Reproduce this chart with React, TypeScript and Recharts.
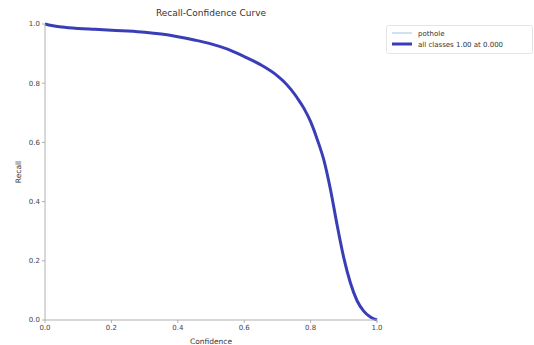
import { Line, LineChart, XAxis, YAxis } from "recharts";

const confidence = [
  0, 0.02, 0.05, 0.1, 0.15, 0.2, 0.25, 0.3, 0.35, 0.4, 0.45, 0.5, 0.55, 0.6, 0.65, 0.7, 0.72, 0.74, 0.76,
  0.78, 0.8, 0.82, 0.84, 0.86, 0.88, 0.9, 0.92, 0.94, 0.96, 0.98, 1.0,
];
const recallAll = [
  1.0, 0.995, 0.99, 0.985, 0.982, 0.979, 0.976, 0.972, 0.966, 0.957, 0.946, 0.933, 0.915, 0.89, 0.862,
  0.825, 0.805, 0.78, 0.75, 0.715, 0.67, 0.61, 0.54, 0.44, 0.32, 0.21, 0.125, 0.065, 0.03, 0.01, 0.0,
];
const recallPothole = recallAll;

const ticks = [0, 0.2, 0.4, 0.6, 0.8, 1.0];

const legendItems = [
  { label: "pothole", color: "#9fc3e6", width: 1 },
  { label: "all classes 1.00 at 0.000", color: "#3a3db8", width: 3 },
];

const rows = confidence.map((c, i) => ({ c, all: recallAll[i], pothole: recallPothole[i] }));

const FONT = "DejaVu Sans, sans-serif";
const FRAME = "#b0b0b0";

// legend drawn as plain svg so it takes no space from the plot
function LegendBox() {
  return (
    <g fontFamily={FONT} fontSize={7} fill="#333">
      <rect x={386.5} y={25.5} width={146} height={28} rx={2} fill="#fff" stroke="#e4e4e4" />
      {legendItems.map((item, i) => (
        <g key={item.label}>
          <line x1={392} x2={412} y1={33 + i * 11} y2={33 + i * 11} stroke={item.color} strokeWidth={item.width} />
          <text x={418} y={35.5 + i * 11}>{item.label}</text>
        </g>
      ))}
    </g>
  );
}

export default function App() {
  return (
    <div style={{ position: "fixed", left: 0, top: 0, width: 534, height: 345, background: "#fff" }}>
      <LineChart width={534} height={345} data={rows} margin={{ top: 24, right: 157, left: 0, bottom: 0 }}>
        <text x={211} y={16} textAnchor="middle" fontFamily={FONT} fontSize={9} fill="#333">
          Recall-Confidence Curve
        </text>
        <text
          x={19}
          y={172}
          transform="rotate(-90 19 172)"
          textAnchor="middle"
          dominantBaseline="middle"
          fontFamily={FONT}
          fontSize={7.5}
          fill="#333"
        >
          Recall
        </text>
        <XAxis
          dataKey="c"
          type="number"
          domain={[0, 1]}
          ticks={ticks}
          tickFormatter={(v) => Number(v).toFixed(1)}
          tick={{ fontSize: 7, fill: "#444", fontFamily: FONT }}
          tickSize={3}
          tickLine={{ stroke: FRAME }}
          axisLine={{ stroke: FRAME }}
          height={25}
          label={{ value: "Confidence", position: "insideBottom", offset: 1, fontSize: 7.5, fill: "#333", fontFamily: FONT }}
        />
        <XAxis xAxisId="top" dataKey="c" type="number" domain={[0, 1]} orientation="top" tick={false} tickLine={false} axisLine={{ stroke: FRAME }} height={0} />
        <YAxis
          type="number"
          domain={[0, 1]}
          ticks={ticks}
          tickFormatter={(v) => Number(v).toFixed(1)}
          tick={{ fontSize: 7, fill: "#444", fontFamily: FONT }}
          tickSize={3}
          tickLine={{ stroke: FRAME }}
          axisLine={{ stroke: FRAME }}
          width={45}
        />
        <YAxis yAxisId="right" type="number" domain={[0, 1]} orientation="right" tick={false} tickLine={false} axisLine={{ stroke: FRAME }} width={0} />
        <Line dataKey="pothole" type="monotone" stroke={legendItems[0].color} strokeWidth={1} dot={false} isAnimationActive={false} />
        <Line dataKey="all" type="monotone" stroke={legendItems[1].color} strokeWidth={3} dot={false} isAnimationActive={false} />
        <LegendBox />
      </LineChart>
    </div>
  );
}
